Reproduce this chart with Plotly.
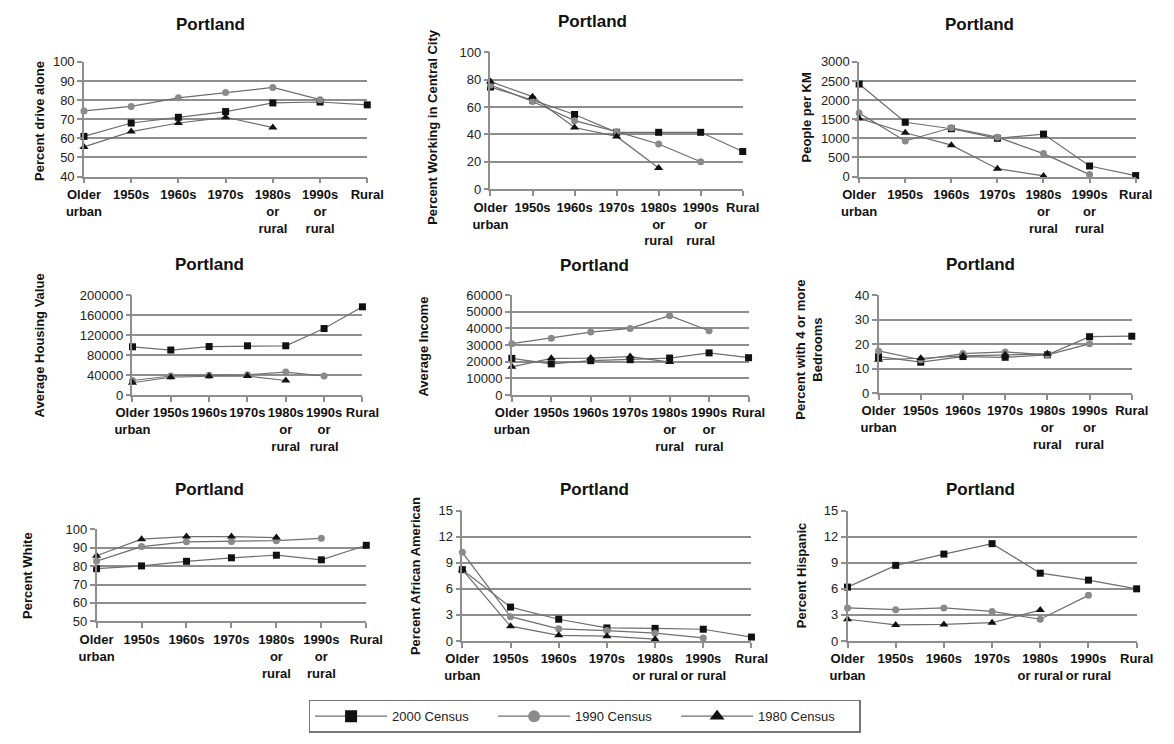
import plotly.graph_objects as go

W, H = 1174, 744

# ---------------- data ----------------
labels_a = ["Older<br>urban", "1950s", "1960s", "1970s", "1980s<br>or<br>rural", "1990s<br>or<br>rural", "Rural"]
labels_b = ["Older<br>urban", "1950s", "1960s", "1970s", "1980s<br>or rural", "1990s<br>or rural", "Rural"]

drive_2000 = [61, 68, 71, 74, 78.5, 79, 77.5]
drive_1990 = [74.3, 76.7, 81.2, 84, 86.6, 80.2, None]
drive_1980 = [55.5, 63.5, 68, 71, 65.6, None, None]

work_2000 = [74.5, 65, 54.5, 41.5, 41.5, 41.5, 27.5]
work_1990 = [76, 64, 50, 42, 33, 20, None]
work_1980 = [78.5, 67.5, 45, 38.5, 15.5, None, None]

dens_2000 = [2420, 1420, 1250, 1000, 1110, 275, 25]
dens_1990 = [1660, 930, 1275, 1030, 600, 50, None]
dens_1980 = [1520, 1145, 820, 205, 15, None, None]

house_2000 = [96500, 90000, 97000, 98500, 98500, 133000, 176500]
house_1990 = [29000, 38000, 39300, 40600, 46000, 38000, None]
house_1980 = [24500, 35500, 37500, 38000, 29000, None, None]

inc_2000 = [22000, 18700, 20600, 21200, 22200, 25300, 22400]
inc_1990 = [30800, 34100, 37800, 40000, 47600, 38600, None]
inc_1980 = [16900, 22000, 22200, 23100, 19800, None, None]

bed_2000 = [14.9, 12.6, 14.9, 14.6, 15.6, 23.0, 23.2]
bed_1990 = [17.2, 13.6, 16.1, 16.8, 15.6, 20.1, None]
bed_1980 = [13.6, 14.2, 15.2, 15.6, 16.0, None, None]

white_2000 = [78.6, 80.1, 82.6, 84.5, 85.9, 83.4, 91.3]
white_1990 = [82.7, 90.6, 93.2, 93.4, 93.8, 95.1, None]
white_1980 = [85.6, 94.6, 96.0, 96.0, 95.5, None, None]

afam_2000 = [8.2, 3.9, 2.5, 1.5, 1.45, 1.35, 0.45]
afam_1990 = [10.2, 2.8, 1.4, 1.2, 0.9, 0.35, None]
afam_1980 = [8.2, 1.7, 0.65, 0.55, 0.2, None, None]

hisp_2000 = [6.2, 8.7, 10.0, 11.2, 7.8, 7.0, 6.0]
hisp_1990 = [3.8, 3.6, 3.8, 3.4, 2.5, 5.25, None]
hisp_1980 = [2.5, 1.85, 1.9, 2.1, 3.55, None, None]

series_names = ["2000 Census", "1990 Census", "1980 Census"]

panels = [
    dict(yt="Percent drive alone", rng=[40, 100], dt=10, lab=labels_a,
         data=[drive_2000, drive_1990, drive_1980], box=(68, 360, 56, 173), tp=(198, 18), ytp=(22, 116)),
    dict(yt="Percent Working in Central City", rng=[0, 100], dt=20, lab=labels_a,
         data=[work_2000, work_1990, work_1980], box=(487, 747, 46, 186), tp=(592, 15), ytp=(427, 122)),
    dict(yt="People per KM", rng=[0, 3000], dt=500, lab=labels_a,
         data=[dens_2000, dens_1990, dens_1980], box=(867, 1152, 56, 173), tp=(991, 18), ytp=(813, 113)),
    dict(yt="Average Housing Value", rng=[0, 200000], dt=40000, lab=labels_a,
         data=[house_2000, house_1990, house_1980], box=(118, 355, 294, 396), tp=(197, 263), ytp=(22, 345)),
    dict(yt="Average Income", rng=[0, 60000], dt=10000, lab=labels_a,
         data=[inc_2000, inc_1990, inc_1980], box=(509, 753, 294, 396), tp=(594, 264), ytp=(417, 347)),
    dict(yt="Percent with 4 or more<br>Bedrooms", rng=[0, 40], dt=10, lab=labels_a,
         data=[bed_2000, bed_1990, bed_1980], box=(887, 1148, 294, 394), tp=(992, 263), ytp=(815, 350)),
    dict(yt="Percent White", rng=[50, 100], dt=10, lab=labels_a,
         data=[white_2000, white_1990, white_1980], box=(81, 359, 533, 627), tp=(197, 492), ytp=(10, 580)),
    dict(yt="Percent African American", rng=[0, 15], dt=3, lab=labels_b,
         data=[afam_2000, afam_1990, afam_1980], box=(458, 756, 514, 647), tp=(594, 492), ytp=(410, 581)),
    dict(yt="Percent Hispanic", rng=[0, 15], dt=3, lab=labels_b,
         data=[hisp_2000, hisp_1990, hisp_1980], box=(855, 1153, 514, 647), tp=(992, 492), ytp=(807, 580)),
]

# ---------------- styles ----------------
FONT = "Liberation Sans"
LINE_COLOR = "#6e6e6e"
GRID = "#8e8e8e"
markers = [
    dict(symbol="square", size=7, color="#111111"),
    dict(symbol="circle", size=7, color="#8a8a8a"),
    dict(symbol="triangle-up", size=8, color="#111111"),
]
legend_markers = [
    dict(symbol="square", size=12, color="#111111"),
    dict(symbol="circle", size=12, color="#8a8a8a"),
    dict(symbol="triangle-up", size=13, color="#111111"),
]

fig = go.Figure()
layout = dict(
    width=W, height=H,
    margin=dict(l=0, r=0, t=0, b=0),
    paper_bgcolor="white", plot_bgcolor="white",
    font=dict(family=FONT, color="#111111"),
    showlegend=True,
    legend=dict(
        orientation="h", x=584 / W, xanchor="center", y=1 - 707 / H, yanchor="top",
        bordercolor="#777777", borderwidth=1.5, bgcolor="white",
        font=dict(size=13, family=FONT, color="#222222"),
        entrywidth=96, entrywidthmode="pixels", itemwidth=72,
        itemclick=False, itemdoubleclick=False,
    ),
)
annotations = []

xs = list(range(7))
for i, p in enumerate(panels):
    n = "" if i == 0 else str(i + 1)
    x0, x1, y0, y1 = p["box"]
    layout["xaxis" + n] = dict(
        domain=[x0 / W, x1 / W], range=[0, 6], anchor="y" + n,
        tickvals=xs, ticktext=p["lab"],
        showgrid=False, zeroline=False, showline=True, linecolor=GRID, linewidth=1.5,
        ticks="outside", ticklen=5, tickcolor=GRID, tickwidth=1.5,
        tickfont=dict(size=13, family=FONT, weight="bold", color="#111111"),
        fixedrange=True,
    )
    layout["yaxis" + n] = dict(
        domain=[1 - y1 / H, 1 - y0 / H], range=p["rng"], dtick=p["dt"], tick0=p["rng"][0],
        anchor="x" + n, tickformat="d",
        showgrid=True, gridcolor=GRID, gridwidth=1.5, zeroline=False,
        showline=True, linecolor=GRID, linewidth=1.5,
        ticks="outside", ticklen=5, tickcolor=GRID, tickwidth=1.5,
        tickfont=dict(size=13, family=FONT, color="#222222"),
        fixedrange=True,
    )
    for s, vals in enumerate(p["data"]):
        fig.add_trace(go.Scatter(
            x=xs, y=vals, mode="lines+markers", name=series_names[s],
            xaxis="x" + n, yaxis="y" + n, showlegend=False, cliponaxis=False,
            line=dict(color=LINE_COLOR, width=1.2), marker=markers[s],
            connectgaps=False,
        ))
    annotations.append(dict(
        text="<b>Portland</b>", x=p["tp"][0] / W, y=1 - p["tp"][1] / H, xref="paper", yref="paper",
        xanchor="center", yanchor="middle", showarrow=False,
        font=dict(size=17, family=FONT, color="#111111"),
    ))
    annotations.append(dict(
        text="<b>" + p["yt"].replace("<br>", "</b><br><b>") + "</b>",
        x=p["ytp"][0] / W, y=1 - p["ytp"][1] / H, xref="paper", yref="paper",
        xanchor="center", yanchor="middle", showarrow=False, textangle=-90,
        font=dict(size=13, family=FONT, color="#111111"),
    ))

# legend entries
for s in range(3):
    fig.add_trace(go.Scatter(
        x=[None], y=[None], mode="lines+markers", name=series_names[s],
        xaxis="x", yaxis="y", showlegend=True,
        line=dict(color=LINE_COLOR, width=1.2), marker=legend_markers[s],
    ))

layout["annotations"] = annotations
fig.update_layout(**layout)
fig.write_html("out.html")
